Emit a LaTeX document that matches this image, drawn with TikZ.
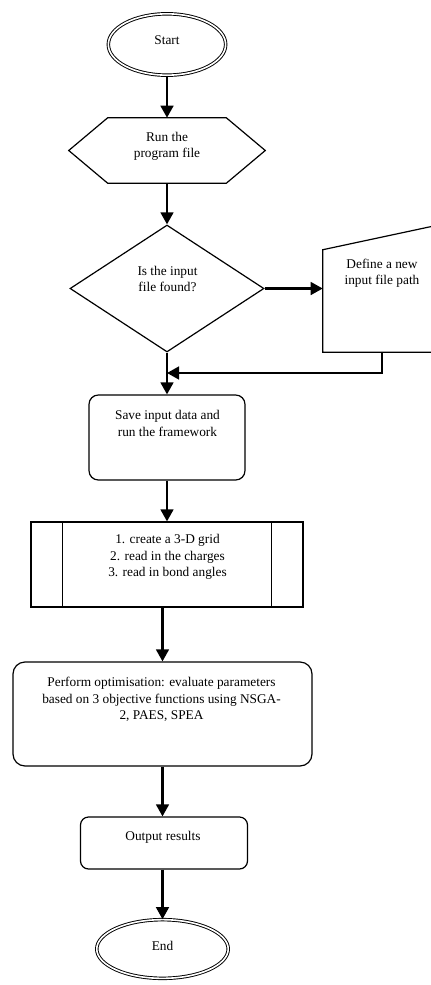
\documentclass[tikz,border=0pt]{standalone}
\usepackage{fontspec}
\setmainfont{Liberation Serif}
\usetikzlibrary{shapes.geometric,arrows.meta}
\tikzset{
  shp/.style={draw,line width=0.9pt,inner sep=0pt},
  frame/.style={inner sep=0pt},
  txt/.style={font=\fontsize{10}{12.4}\selectfont,align=center,inner sep=0pt},
  flow/.style={line width=1.8pt,-{Triangle[length=9pt,width=9.5pt]}},
  term/.style={ellipse,draw,double,double distance=1.2pt,line width=0.7pt,inner sep=0pt}
}
\begin{document}
\begin{tikzpicture}[x=0.75pt,y=-0.75pt]
\useasboundingbox (0,0) rectangle (430,985);
% boxes
\node[term,minimum width=88pt,minimum height=46pt] (start) at (167,44.5) {};
\node[frame,minimum width=88.5pt,minimum height=48.75pt] (run) at (167,150.5) {};
\draw[line width=0.9pt] (run.north west) -- (run.north east) -- ([xshift=29.25pt]run.east) -- (run.south east) -- (run.south west) -- ([xshift=-29.25pt]run.west) -- cycle;
\node[shp,diamond,minimum width=145.5pt,minimum height=95.25pt] (dec) at (167,288.5) {};
\node[frame,minimum width=88.5pt,minimum height=76.5pt] (define) at (382,301) {};
\draw[line width=0.9pt] (define.south west) -- (define.north west) -- ([yshift=19pt]define.north east) -- (define.south east) -- cycle;
\coordinate (merge) at (167,373);
\node[shp,rounded corners=7pt,minimum width=117pt,minimum height=63.75pt] (save) at (167,437.5) {};
\node[shp,minimum width=204pt,minimum height=63.75pt] (proc) at (167,564.5) {};
\draw[line width=0.9pt] ([xshift=24pt]proc.north west) -- ([xshift=24pt]proc.south west)
      ([xshift=-24pt]proc.north east) -- ([xshift=-24pt]proc.south east);
\node[shp,rounded corners=9pt,minimum width=224.25pt,minimum height=78pt] (perf) at (162.5,714) {};
\node[shp,rounded corners=6pt,minimum width=125.25pt,minimum height=39pt] (out) at (164,843) {};
\node[term,minimum width=98.6pt,minimum height=44pt] (end) at (162.5,949) {};
% texts
\node[txt] (starttxt) at (167,40) {Start};
\node[txt] (runtxt) at (167,146.5) {Run the\\program file};
\node[txt] (dectxt) at (167.5,279) {Is the input\\file found?};
\node[txt] (definetxt) at (382,273) {Define a new\\input file path};
\node[txt] (savetxt) at (167.5,423.5) {Save input data and\\run the framework};
\node[txt] (proctxt) at (167.5,557) {1. create a 3-D grid\\2. read in the charges\\3. read in bond angles};
\node[txt] (perftxt) at (161.5,699.5) {Perform optimisation: evaluate parameters\\based on 3 objective functions using NSGA-\\2, PAES, SPEA};
\node[txt] (outtxt) at (163,837) {Output results};
\node[txt] (endtxt) at (162.5,946) {End};
% arrows
\draw[flow] (start) -- (run);
\draw[flow] (run) -- (dec);
\draw[flow] (dec.east) -- (dec.east -| define.west);
\draw[flow] (define.south) |- (merge);
\draw[flow] (dec.south) -- (save.north);
\draw[flow] (save.south) -- (proc.north);
\draw[flow] (perf.north |- proc.south) -- (perf.north);
\draw[flow] (perf.south) -- (perf.south |- out.north);
\draw[flow] (end.north |- out.south) -- (end.north);
\end{tikzpicture}
\end{document}
